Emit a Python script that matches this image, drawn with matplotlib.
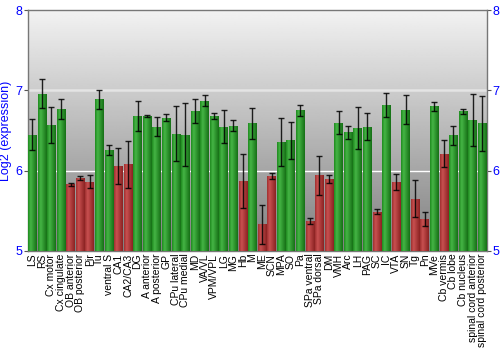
import numpy as np
import matplotlib
matplotlib.use("Agg")
import matplotlib.pyplot as plt
from matplotlib.colors import LinearSegmentedColormap

plt.rcParams['font.family'] = ['Liberation Sans', 'DejaVu Sans']

# brain regions and log2 expression (mean, error half-width)
regions = ["LS", "RS", "Cx motor", "Cx cingulate", "OB anterior", "OB posterior", "Pir", "Tu",
           "ventral S", "CA1", "CA2/CA3", "DG", "A anterior", "A posterior", "GP", "CPu lateral",
           "CPu medial", "MD", "VA/VL", "VPM/VPL", "LG", "MG", "Hb", "M", "ME", "SCN", "MPA", "SO",
           "Pa", "SPa ventral", "SPa dorsal", "DM", "VMH", "Arc", "LH", "PAG", "SC", "IC", "VTA",
           "SN", "Tg", "Pn", "MVe", "Cb vermis", "Cb lobe", "Cb nucleus",
           "spinal cord anterior", "spinal cord posterior"]
expr = [6.45, 6.96, 6.57, 6.77, 5.83, 5.91, 5.86, 6.89,
        6.26, 6.06, 6.08, 6.68, 6.68, 6.55, 6.66, 6.46,
        6.45, 6.74, 6.87, 6.68, 6.55, 6.56, 5.87, 6.59, 5.33, 5.93, 6.36, 6.38,
        6.75, 5.37, 5.94, 5.90, 6.60, 6.48, 6.53, 6.55, 5.49, 6.82, 5.86,
        6.76, 5.65, 5.40, 6.80, 6.21, 6.44, 6.74,
        6.63, 6.59]
err = [0.19, 0.18, 0.22, 0.12, 0.02, 0.02, 0.08, 0.12,
       0.06, 0.22, 0.29, 0.19, 0.01, 0.12, 0.04, 0.34,
       0.39, 0.15, 0.07, 0.035, 0.20, 0.07, 0.34, 0.19, 0.24, 0.035, 0.30, 0.23,
       0.07, 0.04, 0.24, 0.05, 0.14, 0.08, 0.26, 0.17, 0.03, 0.15, 0.10,
       0.18, 0.23, 0.09, 0.055, 0.17, 0.12, 0.03,
       0.32, 0.34]
# 1 = lower expressed group (red), 0 = green
low = [0, 0, 0, 0, 1, 1, 1, 0,
       0, 1, 1, 0, 0, 0, 0, 0,
       0, 0, 0, 0, 0, 0, 1, 0, 1, 1, 0, 0,
       0, 1, 1, 1, 0, 0, 0, 0, 1, 0, 1,
       0, 1, 1, 0, 1, 0, 0,
       0, 0]

green = LinearSegmentedColormap.from_list("g", [(0, "#1f8a1f"), (0.3, "#45b545"), (1, "#167016")])
red = LinearSegmentedColormap.from_list("r", [(0, "#a03030"), (0.3, "#c85050"), (1, "#8a2222")])

fig = plt.figure(figsize=(5, 3.5), dpi=100)
ax = fig.add_axes([0.055, 0.283, 0.919, 0.688])

x = np.arange(len(regions))
ax.set_xlim(-0.5, len(regions) - 0.5)
ax.set_ylim(5, 8)

# gray gradient background
bg = np.linspace(0.5, 0.95, 256).reshape(-1, 1)
ax.imshow(bg, cmap="gray", vmin=0, vmax=1, aspect="auto", origin="lower",
          extent=[0, 1, 0, 1], transform=ax.transAxes, zorder=0)

ax.axhline(7, color="#e4e4e4", lw=1.8, zorder=1)
ax.axhline(6, color="white", lw=1.0, zorder=1)

bars = ax.bar(x, expr, width=0.9, color=["#a03030" if l else "#2a9a2a" for l in low], zorder=2)
grad = np.linspace(0, 1, 64).reshape(1, -1)
for b, l in zip(bars, low):
    bx, bw, bh = b.get_x(), b.get_width(), b.get_height()
    im = ax.imshow(grad, cmap=red if l else green, aspect="auto",
                   extent=[bx, bx + bw, 5, bh], zorder=3)
    im.set_clip_path(b)

ax.errorbar(x, expr, yerr=err, fmt="none", ecolor="black", elinewidth=1,
            capsize=2, capthick=1, alpha=0.85, zorder=4)

ax.set_xticks(x)
ax.set_xticklabels(regions, rotation=90, fontsize=7.5)
ax.tick_params(axis="x", length=0, pad=2)

ax.set_yticks([5, 6, 7, 8])
ax.tick_params(axis="y", labelcolor="blue", labelsize=9, length=3, color="#555555",
               right=True, labelright=True, pad=1)
ax.set_ylabel("Log2 (expression)", color="blue", fontsize=9, labelpad=2)

for s in ["top", "left", "right", "bottom"]:
    ax.spines[s].set_color("#777777")
    ax.spines[s].set_linewidth(1)

fig.savefig("out.png", dpi=100)
